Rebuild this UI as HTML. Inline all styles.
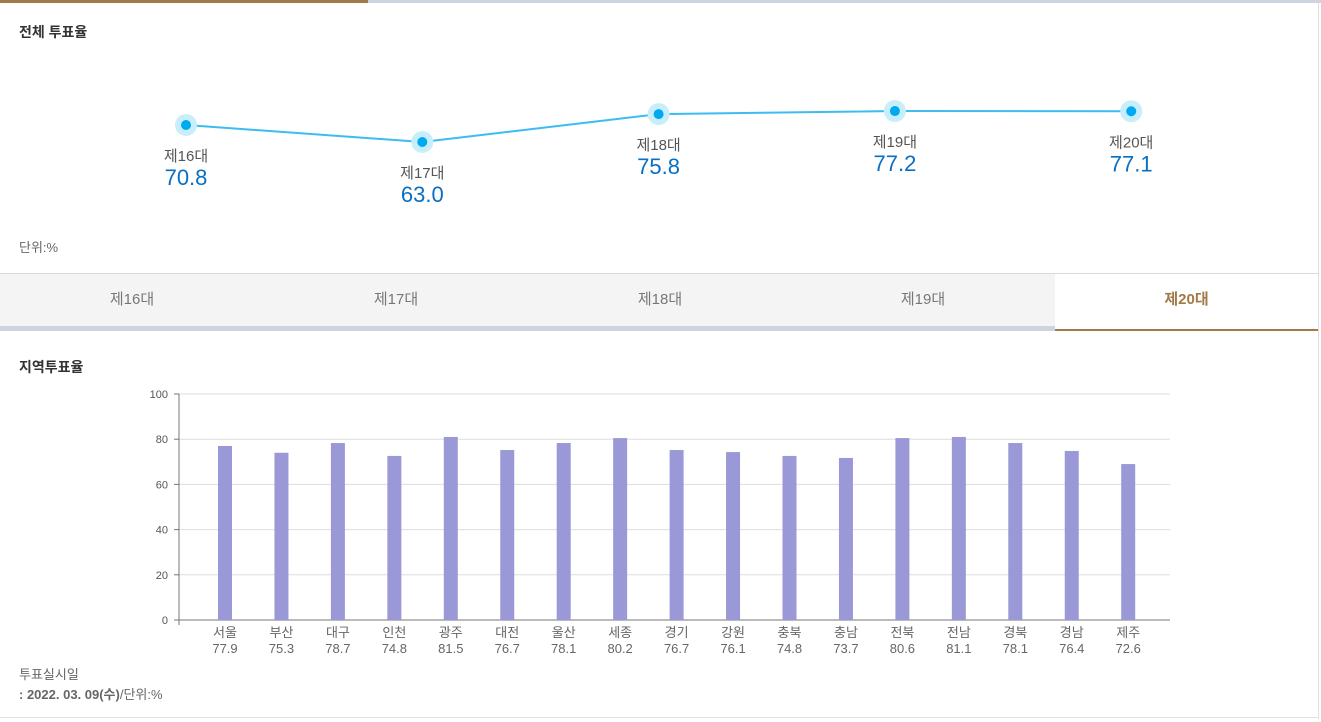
<!DOCTYPE html>
<html><head><meta charset="utf-8"><style>
body{margin:0;width:1321px;height:722px;background:#fff;font-family:"Liberation Sans","Noto Sans CJK KR",sans-serif;overflow:hidden;position:relative}
.abs{position:absolute}
.title{font-size:14px;font-weight:bold;color:#333}
.tab{position:absolute;top:274px;height:52px;width:264px;background:#f4f4f4;color:#777;font-size:15px;text-align:center;line-height:52px;border-bottom:5px solid #cdd3df}
.tab.active{background:#fff;color:#a27a48;font-weight:bold;border-bottom:2px solid #a27a48;height:55px}
</style></head><body>
<div class="abs" style="left:0;top:0;width:1321px;height:3px;background:#cdd3df"></div>
<div class="abs" style="left:0;top:0;width:368px;height:3px;background:#a27a48"></div>
<div class="abs" style="left:1318px;top:3px;width:1px;height:716px;background:#dde0e6"></div>
<div class="abs" style="left:0;top:717px;width:1319px;height:1px;background:#dde0e6"></div>
<div class="abs title" style="left:19px;top:22px">전체 투표율</div>
<svg class="abs" style="left:0;top:0" width="1321" height="270" id="lc"></svg>
<div class="abs" style="left:19px;top:237px;font-size:13px;color:#666">단위:%</div>
<div class="abs" style="left:0;top:273px;width:1319px;height:1px;background:#d6dae2"></div>
<div class="tab" style="left:0">제16대</div>
<div class="tab" style="left:264px">제17대</div>
<div class="tab" style="left:528px">제18대</div>
<div class="tab" style="left:791px">제19대</div>
<div class="tab active" style="left:1055px;width:263px">제20대</div>
<div class="abs title" style="left:19px;top:357px">지역투표율</div>
<svg class="abs" style="left:0;top:380px" width="1321" height="280" id="bc"></svg>
<div class="abs" style="left:19px;top:664px;font-size:13px;color:#666">투표실시일</div>
<div class="abs" style="left:19px;top:684px;font-size:13px;color:#666"><b>: 2022. 03. 09(수)</b>/단위:%</div>
<script>
const elections=["제16대","제17대","제18대","제19대","제20대"];
const totals=[70.8,63.0,75.8,77.2,77.1];
const regions=["서울","부산","대구","인천","광주","대전","울산","세종","경기","강원","충북","충남","전북","전남","경북","경남","제주"];
const regionValues=[77.9,75.3,78.7,74.8,81.5,76.7,78.1,80.2,76.7,76.1,74.8,73.7,80.6,81.1,78.1,76.4,72.6];
const barValues=[77.0,74.0,78.3,72.6,81.0,75.2,78.3,80.5,75.2,74.3,72.6,71.7,80.5,81.0,78.3,74.8,69.0];
const yTicks=[0,20,40,60,80,100];
const NS="http://www.w3.org/2000/svg";
function mk(p,t,a,txt){const e=document.createElementNS(NS,t);for(const k in a)e.setAttribute(k,a[k]);if(txt!=null)e.textContent=txt;p.appendChild(e);return e;}
const lc=document.getElementById('lc');
const lx=i=>186+i*236.3, ly=v=>125-(v-70.8)*2.18;
let pts=totals.map((v,i)=>lx(i)+","+ly(v)).join(" ");
const pl=mk(lc,'polyline',{points:pts,fill:'none',stroke:'#3cbcf0','stroke-width':2});


totals.forEach((v,i)=>{
 const g=mk(lc,'g',{});
 
 
 mk(g,'circle',{cx:lx(i),cy:ly(v),r:11,fill:'#c8eefb'});
 mk(g,'circle',{cx:lx(i),cy:ly(v),r:5,fill:'#00aaf0'});
 mk(g,'text',{x:lx(i),y:ly(v)+36,'text-anchor':'middle','font-size':15,fill:'#555'},elections[i]);
 mk(g,'text',{x:lx(i),y:ly(v)+60,'text-anchor':'middle','font-size':22,fill:'#0a6fc2'},v.toFixed(1));
});
const bc=document.getElementById('bc');
const X0=179,X1=1170,Y0=240,YH=14;
const by=v=>Y0-(v/100)*(Y0-YH), bx=i=>225+i*56.45;
yTicks.forEach(t=>{
 const g=mk(bc,'g',{});
 
 
 if(t>0)mk(g,'line',{x1:X0,x2:X1,y1:by(t),y2:by(t),stroke:'#ddd'});
 mk(g,'line',{x1:X0-5,x2:X0,y1:by(t),y2:by(t),stroke:'#777'});
 mk(g,'text',{x:X0-11,y:by(t)+4,'text-anchor':'end','font-size':11,fill:'#555'},t);
});
mk(bc,'line',{x1:X0,x2:X0,y1:YH,y2:Y0+5,stroke:'#777'});
mk(bc,'line',{x1:X0,x2:X1,y1:Y0,y2:Y0,stroke:'#777'});
barValues.forEach((v,i)=>{
 const r=mk(bc,'rect',{x:bx(i)-7,y:by(v),width:14,height:Y0-by(v),fill:'#9a98d6'});
 
 
});
regionValues.forEach((v,i)=>{
 const t=mk(bc,'text',{x:bx(i),y:Y0+17,'text-anchor':'middle','font-size':13,fill:'#666'},regions[i]);
 
 
 const t2=mk(bc,'text',{x:bx(i),y:Y0+33,'text-anchor':'middle','font-size':13,fill:'#666'},v.toFixed(1));
 
 
});
</script>
</body></html>
